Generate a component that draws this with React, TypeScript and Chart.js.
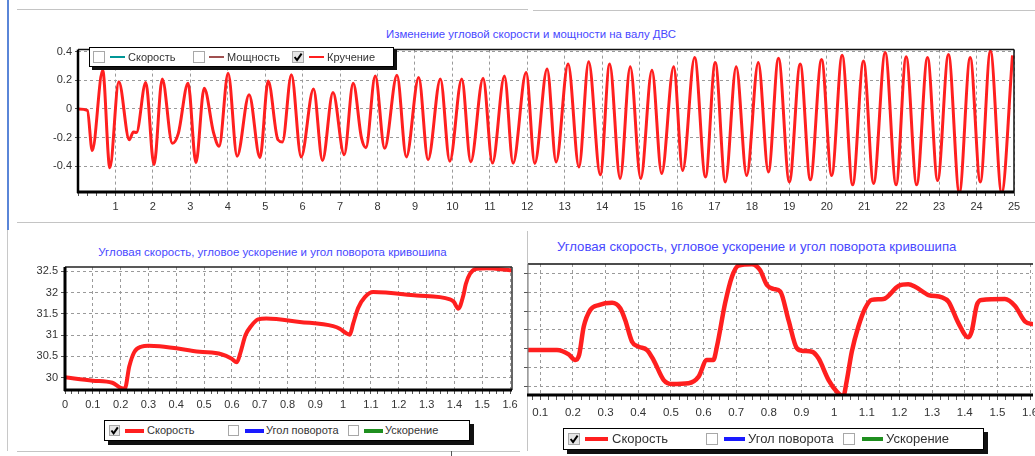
import React, { useEffect, useRef } from "react";
import { Chart, registerables } from "chart.js";

Chart.register(...registerables);

const FONT = "'Liberation Sans', Arial, Helvetica, sans-serif";
const GRID = "#9a9a9a";
const TICK_TXT = "#333333";
const TITLE_CLR = "rgb(72,72,255)";
const RED = "#ff1f1f";

// ---------- Data: top chart (Кручение) ----------
const torsionTime = [
  0, 0.25, 0.38, 0.66, 0.85, 1.09, 1.37, 1.48, 1.56, 1.81, 2.03, 2.25, 2.52, 2.68, 2.94, 3.15,
  3.37, 3.62, 3.77, 4.01, 4.25, 4.57, 4.86, 5.08, 5.34, 5.46, 5.7, 5.96, 6.29, 6.53, 6.81, 7.11,
  7.35, 7.57, 7.69, 7.94, 8.19, 8.52, 8.77, 9.1, 9.35, 9.68, 9.93, 10.25, 10.49, 10.82, 11.07,
  11.39, 11.62, 11.97, 12.2, 12.53, 12.77, 13.09, 13.38, 13.64, 13.95, 14.2, 14.48, 14.75, 15.03,
  15.33, 15.59, 15.91, 16.15, 16.47, 16.76, 17.02, 17.29, 17.58, 17.86, 18.17, 18.44, 18.71, 19.0,
  19.29, 19.56, 19.86, 20.13, 20.41, 20.69, 20.98, 21.25, 21.56, 21.85, 22.12, 22.4, 22.69, 22.96,
  23.25, 23.54, 23.83, 24.1, 24.37, 24.67, 24.96,
];
const torsionValue = [
  0, -0.01, -0.29, 0.27, -0.41, 0.19, -0.215, -0.16, -0.165, 0.185, -0.39, 0.21, -0.24, -0.17, 0.18, -0.375,
  0.145, -0.165, -0.26, 0.25, -0.33, 0.1, -0.34, 0.195, -0.215, -0.23, 0.24, -0.335, 0.14, -0.36, 0.115, -0.32,
  0.18, -0.2, -0.27, 0.23, -0.275, 0.235, -0.335, 0.22, -0.355, 0.21, -0.365, 0.21, -0.37, 0.215, -0.378,
  0.23, -0.378, 0.255, -0.38, 0.28, -0.37, 0.315, -0.405, 0.33, -0.46, 0.315, -0.485, 0.295, -0.485,
  0.27, -0.45, 0.295, -0.43, 0.36, -0.475, 0.325, -0.51, 0.295, -0.465, 0.325, -0.44, 0.355, -0.51,
  0.315, -0.495, 0.345, -0.465, 0.375, -0.53, 0.335, -0.52, 0.395, -0.53, 0.365, -0.53, 0.36, -0.5,
  0.38, -0.585, 0.36, -0.51, 0.405, -0.585, 0.375,
];
const topXLabels = [1, 2, 3, 4, 5, 6, 7, 8, 9, 10, 11, 12, 13, 14, 15, 16, 17, 18, 19, 20, 21, 22, 23, 24, 25];
const topYTicks = [-0.4, -0.2, 0, 0.2, 0.4];

// ---------- Data: bottom-left chart (Скорость) ----------
const leftSpeedTime = [
  0, 0.1, 0.17, 0.2, 0.215, 0.231, 0.249, 0.275, 0.3, 0.34, 0.484, 0.562, 0.598, 0.618, 0.63, 0.649,
  0.67, 0.694, 0.724, 0.844, 0.964, 0.988, 1.012, 1.024, 1.036, 1.054, 1.078, 1.108, 1.264, 1.384,
  1.398, 1.414, 1.432, 1.441, 1.456, 1.48, 1.516, 1.606,
];
const leftSpeedValue = [
  30.01, 29.93, 29.88, 29.76, 29.74, 30.26, 30.6, 30.73, 30.75, 30.74, 30.61, 30.55, 30.45, 30.36, 30.57, 31.0,
  31.22, 31.37, 31.39, 31.31, 31.21, 31.15, 31.04, 31.01, 31.27, 31.64, 31.89, 32.01, 31.93, 31.84,
  31.78, 31.62, 31.93, 32.2, 32.44, 32.56, 32.57, 32.52,
];
const leftXLabels = [0, 0.1, 0.2, 0.3, 0.4, 0.5, 0.6, 0.7, 0.8, 0.9, 1, 1.1, 1.2, 1.3, 1.4, 1.5, 1.6];
const leftYTicks = [30, 30.5, 31, 31.5, 32, 32.5];

// ---------- Data: bottom-right chart (Скорость, scaled view) ----------
const rightSpeedTime = [
  0.06, 0.151, 0.187, 0.207, 0.219, 0.233, 0.253, 0.279, 0.32, 0.345, 0.36, 0.381, 0.401, 0.427, 0.447,
  0.478, 0.503, 0.554, 0.585, 0.61, 0.63, 0.641, 0.666, 0.687, 0.707, 0.748, 0.773, 0.794, 0.814, 0.835,
  0.86, 0.886, 0.906, 0.932, 0.952, 0.983, 1.008, 1.028, 1.039, 1.054, 1.074, 1.095, 1.115, 1.151,
  1.197, 1.227, 1.248, 1.289, 1.33, 1.35, 1.381, 1.411, 1.421, 1.437, 1.452, 1.523, 1.554, 1.585, 1.61,
];
const rightSpeedValue = [
  2.94, 2.94, 2.71, 2.41, 2.68, 4.17, 5.06, 5.32, 5.44, 5.15, 4.53, 3.38, 3.12, 2.94, 2.41,
  1.35, 1.14, 1.18, 1.53, 2.41, 2.41, 3.12, 5.41, 6.82, 7.4, 7.48, 7.17, 6.38, 6.17, 6.03,
  4.53, 3.03, 2.89, 2.85, 2.5, 1.35, 0.74, 0.5, 1.35, 2.85, 4.17, 5.15, 5.59, 5.64,
  6.33, 6.42, 6.29, 5.85, 5.73, 5.5, 4.35, 3.61, 3.91, 5.32, 5.59, 5.64, 5.27, 4.44, 4.3,
];
const rightXLabels = [0.1, 0.2, 0.3, 0.4, 0.5, 0.6, 0.7, 0.8, 0.9, 1, 1.1, 1.2, 1.3, 1.4, 1.5, 1.6];
const rightYGrid = [1, 2, 3, 4, 5, 6, 7];

// ---------- helpers ----------
const steps = (from: number, to: number, step: number) => {
  const out: number[] = [];
  const n = Math.round((to - from) / step);
  for (let i = 0; i <= n; i++) out.push(Math.round((from + i * step) * 1000) / 1000);
  return out;
};
const isIn = (v: number, list: number[]) => list.some((l) => Math.abs(l - v) < 1e-6);
const fmt = (v: number) => String(Math.round(v * 100) / 100);

type Seg = [number, string];
const framePlugin = {
  id: "frame",
  afterDatasetsDraw(chart: any, _a: any, opts: any) {
    const { ctx, chartArea: a } = chart;
    const seg = (s: Seg, x1: number, y1: number, x2: number, y2: number) => {
      if (!s || !s[0]) return;
      ctx.save();
      ctx.setLineDash([]);
      ctx.lineWidth = s[0];
      ctx.strokeStyle = s[1];
      ctx.beginPath();
      ctx.moveTo(x1, y1);
      ctx.lineTo(x2, y2);
      ctx.stroke();
      ctx.restore();
    };
    seg(opts.top, a.left, a.top, a.right, a.top);
    seg(opts.right, a.right, a.top, a.right, a.bottom);
    seg(opts.left, a.left, a.top, a.left, a.bottom + 1);
    seg(opts.bottom, a.left - 1, a.bottom, a.right, a.bottom);
  },
};

interface Cfg {
  xs: number[];
  ys: number[];
  lw: number;
  xMin: number;
  xMax: number;
  xTicks: number[];
  xLabels: number[];
  yMin: number;
  yMax: number;
  yTicks: number[];
  yShow: boolean;
  yWidth: number;
  xHeight: number;
  padTop: number;
  padRight: number;
  font: number;
  xTl: number;
  xPad: number;
  yTl: number;
  yPad: number;
  frame: { top: Seg; right: Seg; left: Seg; bottom: Seg };
}

function makeConfig(c: Cfg): any {
  return {
    type: "line",
    data: {
      datasets: [
        {
          data: c.xs.map((x, i) => ({ x, y: c.ys[i] })),
          borderColor: RED,
          borderWidth: c.lw,
          pointRadius: 0,
          cubicInterpolationMode: "monotone",
          fill: false,
        },
      ],
    },
    options: {
      responsive: false,
      animation: false,
      devicePixelRatio: 1,
      layout: { padding: { top: c.padTop, right: c.padRight, left: 0, bottom: 0 } },
      plugins: {
        legend: { display: false },
        title: { display: false },
        tooltip: { enabled: false },
        frame: c.frame,
      },
      scales: {
        x: {
          type: "linear",
          min: c.xMin,
          max: c.xMax,
          afterBuildTicks: (s: any) => {
            s.ticks = c.xTicks.map((v) => ({ value: v }));
          },
          afterFit: (s: any) => {
            s.height = c.xHeight;
          },
          grid: {
            color: (ctx: any) => (ctx.tick && isIn(ctx.tick.value, c.xLabels) ? GRID : "rgba(0,0,0,0)"),
            lineWidth: 1,
            drawTicks: true,
            tickLength: c.xTl,
            tickColor: "#555",
            tickWidth: 1,
          },
          border: { display: false, dash: [3, 3] },
          ticks: {
            autoSkip: false,
            maxRotation: 0,
            minRotation: 0,
            padding: c.xPad,
            color: TICK_TXT,
            font: { family: FONT, size: c.font },
            callback: (v: number) => (isIn(v, c.xLabels) ? fmt(v) : ""),
          },
        },
        y: {
          type: "linear",
          min: c.yMin,
          max: c.yMax,
          afterBuildTicks: (s: any) => {
            s.ticks = c.yTicks.map((v) => ({ value: v }));
          },
          afterFit: (s: any) => {
            s.width = c.yWidth;
          },
          grid: {
            color: GRID,
            lineWidth: 1,
            drawTicks: c.yTl > 0,
            tickLength: c.yTl,
            tickColor: "#555",
            tickWidth: 1,
          },
          border: { display: false, dash: [3, 3] },
          ticks: {
            display: c.yShow,
            padding: c.yPad,
            color: TICK_TXT,
            font: { family: FONT, size: c.font },
            callback: (v: number) => fmt(v),
          },
        },
      },
    },
    plugins: [framePlugin],
  };
}

function ChartBox(props: { left: number; top: number; width: number; height: number; cfg: Cfg }) {
  const ref = useRef<HTMLCanvasElement>(null);
  useEffect(() => {
    const chart = new Chart(ref.current as HTMLCanvasElement, makeConfig(props.cfg));
    return () => chart.destroy();
  }, []);
  return (
    <canvas
      ref={ref}
      width={props.width}
      height={props.height}
      style={{ position: "absolute", left: props.left, top: props.top, width: props.width, height: props.height, display: "block" }}
    />
  );
}

function CheckBox(p: { x: number; y: number; size: number; checked: boolean }) {
  const s = p.size;
  return (
    <div
      style={{
        position: "absolute",
        left: p.x,
        top: p.y,
        width: s,
        height: s,
        boxSizing: "border-box",
        border: "1px solid #a8a8a8",
        background: p.checked ? "#e6e6e6" : "#fff",
      }}
    >
      {p.checked && (
        <svg width={s} height={s} style={{ position: "absolute", left: -1, top: -1 }}>
          <path
            d={`M${s * 0.22} ${s * 0.5} L${s * 0.42} ${s * 0.76} L${s * 0.8} ${s * 0.22}`}
            stroke="#000"
            strokeWidth={2}
            fill="none"
          />
        </svg>
      )}
    </div>
  );
}

interface LegendItem {
  check: number;
  line: [number, number];
  text: number;
  color: string;
  label: string;
  checked: boolean;
}

function Legend(p: {
  left: number;
  top: number;
  width: number;
  height: number;
  shadow: number;
  font: number;
  lineW: number;
  box: number;
  items: LegendItem[];
}) {
  const inner = p.height - 2;
  return (
    <div
      style={{
        position: "absolute",
        left: p.left,
        top: p.top,
        width: p.width,
        height: p.height,
        boxSizing: "border-box",
        border: "1px solid #000",
        background: "#fff",
        boxShadow: `${p.shadow}px ${p.shadow}px 0 #111`,
        fontFamily: FONT,
      }}
    >
      {p.items.map((it) => (
        <React.Fragment key={it.label}>
          <CheckBox x={it.check - p.left - 1} y={Math.round((inner - p.box) / 2)} size={p.box} checked={it.checked} />
          <div
            style={{
              position: "absolute",
              left: it.line[0] - p.left - 1,
              top: inner / 2 - p.lineW / 2,
              width: it.line[1] - it.line[0],
              height: p.lineW,
              background: it.color,
            }}
          />
          <div
            style={{
              position: "absolute",
              left: it.text - p.left - 1,
              top: 0,
              height: inner,
              lineHeight: `${inner}px`,
              fontSize: p.font,
              color: "#333",
              whiteSpace: "nowrap",
            }}
          >
            {it.label}
          </div>
        </React.Fragment>
      ))}
    </div>
  );
}

function Title(p: { cx: number; cy: number; size: number; text: string }) {
  return (
    <div
      style={{
        position: "absolute",
        left: p.cx - 300,
        width: 600,
        top: p.cy - 8,
        height: 16,
        lineHeight: "16px",
        textAlign: "center",
        fontFamily: FONT,
        fontSize: p.size,
        color: TITLE_CLR,
        whiteSpace: "nowrap",
      }}
    >
      {p.text}
    </div>
  );
}

function Rule(p: { l: number; t: number; w: number; h: number; c: string }) {
  return <div style={{ position: "absolute", left: p.l, top: p.t, width: p.w, height: p.h, background: p.c }} />;
}

const topCfg: Cfg = {
  xs: torsionTime,
  ys: torsionValue,
  lw: 3,
  xMin: 0,
  xMax: 25,
  xTicks: steps(0, 25, 0.25),
  xLabels: topXLabels,
  yMin: -0.58,
  yMax: 0.415,
  yTicks: topYTicks,
  yShow: true,
  yWidth: 48,
  xHeight: 28,
  padTop: 8,
  padRight: 21,
  font: 11,
  xTl: 4,
  xPad: 4,
  yTl: 3,
  yPad: 3,
  frame: { top: [1.5, "#111"], right: [1.5, "#111"], left: [2.5, "#000"], bottom: [3, "#000"] },
};

const leftCfg: Cfg = {
  xs: leftSpeedTime,
  ys: leftSpeedValue,
  lw: 4,
  xMin: 0,
  xMax: 1.607,
  xTicks: steps(0, 1.6, 0.025),
  xLabels: leftXLabels,
  yMin: 29.71,
  yMax: 32.6,
  yTicks: leftYTicks,
  yShow: true,
  yWidth: 55,
  xHeight: 25,
  padTop: 12,
  padRight: 13,
  font: 11,
  xTl: 4,
  xPad: 4,
  yTl: 4,
  yPad: 3,
  frame: { top: [1.5, "#222"], right: [1.5, "#333"], left: [3, "#000"], bottom: [3, "#000"] },
};

const rightCfg: Cfg = {
  xs: rightSpeedTime,
  ys: rightSpeedValue,
  lw: 4.5,
  xMin: 0.0624,
  xMax: 1.609,
  xTicks: steps(0.075, 1.6, 0.025),
  xLabels: rightXLabels,
  yMin: 0.56,
  yMax: 7.49,
  yTicks: rightYGrid,
  yShow: false,
  yWidth: 13,
  xHeight: 30,
  padTop: 12,
  padRight: 17,
  font: 11.5,
  xTl: 5,
  xPad: 6,
  yTl: 4,
  yPad: 3,
  frame: { top: [1.5, "#111"], right: [0, "#000"], left: [1, "#777"], bottom: [3, "#000"] },
};

export default function App() {
  return (
    <div
      style={{
        position: "fixed",
        left: 0,
        top: 0,
        width: 1035,
        height: 456,
        overflow: "hidden",
        background: "#fff",
        fontFamily: FONT,
      }}
    >
      <Rule l={17} t={9} w={511} h={1} c="#c4c4c4" />
      <Rule l={533} t={10} w={502} h={1} c="#c4c4c4" />
      <Rule l={7} t={0} w={2} h={230} c="#5a86d8" />
      <Rule l={17} t={222} w={1018} h={1} c="#c4c4c4" />
      <Rule l={7} t={230} w={1} h={221} c="#c8c8c8" />
      <Rule l={17} t={451} w={503} h={1} c="#c4c4c4" />
      <Rule l={527} t={231} w={1} h={220} c="#c4c4c4" />
      <Rule l={451} t={451} w={1} h={5} c="#555" />

      <Title cx={531} cy={34} size={11.4} text="Изменение угловой скорости и мощности на валу ДВС" />
      <Title cx={272.5} cy={252} size={11.5} text="Угловая скорость, угловое ускорение и угол поворота кривошипа" />
      <Title cx={756.7} cy={247} size={13.2} text="Угловая скорость, угловое ускорение и угол поворота кривошипа" />

      <ChartBox left={30} top={40} width={1005} height={180} cfg={topCfg} />
      <ChartBox left={10} top={255} width={515} height={160} cfg={leftCfg} />
      <ChartBox left={515} top={252} width={535} height={173} cfg={rightCfg} />

      <Legend
        left={89}
        top={47}
        width={305}
        height={20}
        shadow={3}
        font={11}
        lineW={2}
        box={12}
        items={[
          { check: 93, line: [110, 125], text: 128, color: "rgb(0,150,150)", label: "Скорость", checked: false },
          { check: 193, line: [209, 224], text: 227, color: "rgb(160,80,80)", label: "Мощность", checked: false },
          { check: 292, line: [309, 324], text: 327, color: RED, label: "Кручение", checked: true },
        ]}
      />
      <Legend
        left={104}
        top={420}
        width={366}
        height={21}
        shadow={4}
        font={11}
        lineW={4}
        box={11}
        items={[
          { check: 109, line: [125, 144], text: 147, color: RED, label: "Скорость", checked: true },
          { check: 228, line: [245, 264], text: 266, color: "#1a1aff", label: "Угол поворота", checked: false },
          { check: 348, line: [364, 383], text: 385, color: "#1f8f1f", label: "Ускорение", checked: false },
        ]}
      />
      <Legend
        left={563}
        top={428}
        width={421}
        height={22}
        shadow={4}
        font={13}
        lineW={4.5}
        box={12}
        items={[
          { check: 568, line: [585, 608], text: 612, color: RED, label: "Скорость", checked: true },
          { check: 706, line: [724, 745], text: 748, color: "#1a1aff", label: "Угол поворота", checked: false },
          { check: 843, line: [862, 883], text: 886, color: "#1f8f1f", label: "Ускорение", checked: false },
        ]}
      />
    </div>
  );
}
